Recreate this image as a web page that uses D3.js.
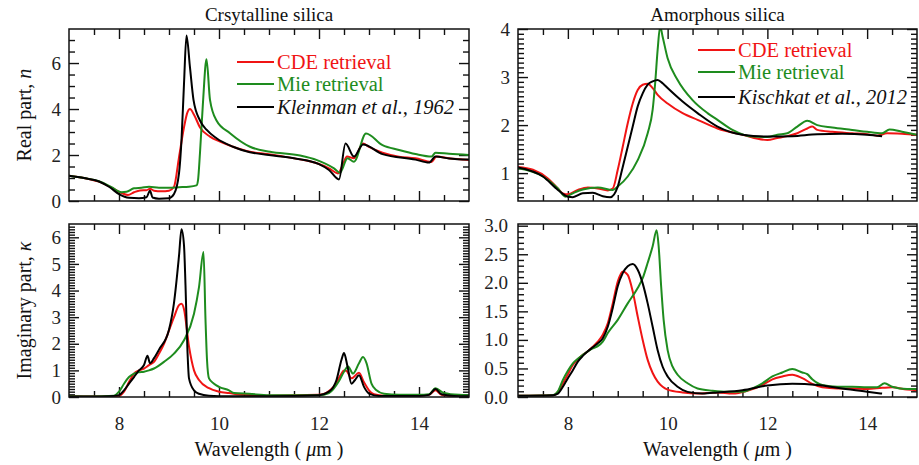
<!DOCTYPE html>
<html>
<head>
<meta charset="utf-8">
<script src="https://cdn.jsdelivr.net/npm/d3@7"></script>
<style>
  body { margin: 0; background: #fff; }
  svg text { font-family: "Liberation Serif", "DejaVu Serif", "Times New Roman", serif; }
</style>
</head>
<body>
<svg width="919" height="465"></svg>
<script>
// wavelength (um) vs value
let crysNcde = [[7.0,1.1],[7.3,1.0],[7.6,0.84],[7.87,0.56],[8.05,0.35],[8.18,0.26],[8.3,0.38],[8.42,0.46],[8.55,0.47],[8.62,0.53],[8.7,0.45],[8.85,0.42],[9.0,0.45],[9.1,0.62],[9.2,1.9],[9.3,3.2],[9.36,3.8],[9.42,4.0],[9.5,3.75],[9.62,3.2],[9.82,2.8],[10.02,2.58],[10.28,2.36],[10.62,2.14],[10.96,2.04],[11.3,1.93],[11.62,1.81],[11.96,1.64],[12.2,1.42],[12.38,1.2],[12.48,1.6],[12.56,1.93],[12.7,1.86],[12.88,2.5],[13.0,2.35],[13.27,2.1],[13.6,1.93],[13.93,1.86],[14.25,1.7],[14.35,1.93],[14.6,1.86],[15,1.78]];
let crysNmie = [[7.0,1.1],[7.3,1.0],[7.6,0.86],[7.85,0.6],[8.05,0.38],[8.15,0.4],[8.3,0.55],[8.45,0.58],[8.6,0.62],[8.8,0.58],[9.0,0.58],[9.2,0.6],[9.4,0.62],[9.55,0.68],[9.58,0.9],[9.62,2.1],[9.68,4.3],[9.75,6.16],[9.82,4.4],[9.95,3.5],[10.22,2.95],[10.62,2.36],[11.02,2.14],[11.62,1.98],[11.96,1.78],[12.3,1.42],[12.42,1.23],[12.57,1.86],[12.7,1.71],[12.94,2.94],[13.27,2.43],[13.6,2.22],[13.93,2.04],[14.25,1.93],[14.33,2.1],[14.6,2.05],[15,2.0]];
let crysNref = [[7.0,1.1],[7.3,1.0],[7.6,0.85],[7.8,0.62],[8.0,0.3],[8.2,0.14],[8.4,0.12],[8.55,0.16],[8.62,0.45],[8.67,0.15],[8.8,0.1],[9.0,0.12],[9.1,0.3],[9.2,1.2],[9.25,2.65],[9.3,5.1],[9.35,7.2],[9.42,5.8],[9.49,4.4],[9.62,3.5],[9.75,3.1],[9.95,2.73],[10.28,2.36],[10.62,2.12],[11.0,2.0],[11.5,1.86],[12.0,1.6],[12.2,1.35],[12.4,0.94],[12.53,2.5],[12.7,1.93],[12.88,2.46],[13.27,2.04],[13.93,1.8],[14.2,1.67],[14.33,1.93],[14.6,1.85],[15,1.8]];

let crysKcde = [[7.0,0.03],[7.5,0.02],[7.8,0.03],[8.0,0.05],[8.1,0.2],[8.2,0.56],[8.3,0.88],[8.4,1.0],[8.5,1.07],[8.6,1.2],[8.7,1.32],[8.8,1.63],[8.9,2.0],[9.0,2.5],[9.1,3.0],[9.2,3.45],[9.25,3.5],[9.3,3.3],[9.4,1.9],[9.5,1.0],[9.6,0.64],[9.8,0.33],[10.0,0.2],[10.2,0.15],[10.5,0.08],[11,0.05],[12,0.08],[12.3,0.4],[12.45,0.88],[12.5,1.0],[12.55,0.98],[12.65,0.7],[12.8,0.91],[12.9,0.55],[13.0,0.25],[13.1,0.1],[13.3,0.05],[14.0,0.05],[14.2,0.08],[14.33,0.25],[14.45,0.08],[14.7,0.03],[15,0.02]];
let crysKmie = [[7.0,0.03],[7.5,0.02],[7.9,0.05],[8.0,0.2],[8.1,0.5],[8.2,0.75],[8.3,0.88],[8.4,0.93],[8.5,0.95],[8.6,1.0],[8.7,1.07],[8.9,1.32],[9.1,1.63],[9.3,2.13],[9.5,3.13],[9.6,4.13],[9.69,5.45],[9.73,2.9],[9.76,1.4],[9.8,0.7],[9.9,0.5],[10.0,0.38],[10.2,0.25],[10.3,0.15],[10.6,0.12],[11,0.07],[12,0.07],[12.2,0.15],[12.4,0.6],[12.5,0.95],[12.58,1.15],[12.68,0.88],[12.8,1.27],[12.88,1.5],[12.95,1.27],[13.05,0.5],[13.15,0.25],[13.3,0.12],[13.6,0.08],[14.0,0.08],[14.2,0.1],[14.33,0.33],[14.5,0.15],[14.8,0.08],[15,0.07]];
let crysKref = [[7.0,0.02],[7.5,0.02],[7.8,0.03],[8.0,0.07],[8.1,0.25],[8.2,0.5],[8.3,0.75],[8.4,1.0],[8.5,1.2],[8.57,1.55],[8.62,1.27],[8.7,1.46],[8.8,1.78],[9.0,2.53],[9.1,3.54],[9.2,5.3],[9.25,6.3],[9.3,5.7],[9.33,4.2],[9.37,1.7],[9.4,0.7],[9.5,0.25],[9.6,0.12],[9.8,0.05],[10.2,0.03],[11,0.03],[12.0,0.07],[12.2,0.2],[12.35,0.64],[12.45,1.4],[12.5,1.65],[12.57,1.15],[12.65,0.5],[12.72,0.64],[12.8,0.82],[12.9,0.38],[13.0,0.13],[13.2,0.04],[14.0,0.04],[14.2,0.08],[14.33,0.3],[14.45,0.1],[14.7,0.04],[15,0.03]];

let amorNcde = [[7.0,1.13],[7.3,1.07],[7.6,0.89],[7.8,0.68],[7.9,0.58],[8.0,0.56],[8.2,0.65],[8.4,0.7],[8.6,0.68],[8.8,0.64],[8.9,0.68],[9.0,1.07],[9.1,1.55],[9.2,2.04],[9.3,2.45],[9.4,2.73],[9.5,2.84],[9.6,2.86],[9.7,2.77],[9.8,2.63],[10.0,2.45],[10.3,2.25],[10.6,2.11],[11.0,1.93],[11.5,1.8],[12.0,1.69],[12.2,1.73],[12.4,1.77],[12.6,1.83],[12.8,1.93],[12.9,1.97],[13.0,1.9],[13.3,1.86],[13.7,1.83],[14.0,1.81],[14.2,1.78],[14.4,1.83],[14.7,1.82],[15,1.8]];
let amorNmie = [[7.0,1.1],[7.5,0.93],[7.8,0.68],[7.95,0.51],[8.1,0.58],[8.3,0.66],[8.6,0.7],[8.9,0.65],[9.0,0.72],[9.2,0.93],[9.4,1.27],[9.6,1.83],[9.7,2.32],[9.75,2.87],[9.8,3.57],[9.85,4.05],[9.9,3.84],[10.0,3.39],[10.2,2.94],[10.5,2.52],[10.8,2.25],[11.0,2.11],[11.3,1.9],[11.7,1.76],[12.0,1.75],[12.2,1.8],[12.4,1.83],[12.6,1.97],[12.8,2.09],[13.0,2.0],[13.3,1.95],[13.7,1.9],[14.0,1.86],[14.3,1.83],[14.45,1.91],[14.7,1.86],[15,1.8]];
let amorNref = [[7.0,1.12],[7.5,0.93],[7.8,0.65],[8.0,0.51],[8.1,0.5],[8.3,0.58],[8.5,0.59],[8.7,0.52],[8.85,0.5],[9.0,0.72],[9.1,1.13],[9.2,1.55],[9.3,1.97],[9.4,2.39],[9.5,2.66],[9.6,2.84],[9.7,2.91],[9.8,2.94],[9.9,2.87],[10.0,2.77],[10.3,2.49],[10.6,2.25],[11.0,1.97],[11.5,1.8],[12.0,1.76],[12.5,1.77],[13.0,1.81],[13.5,1.82],[14.0,1.8],[14.3,1.77]];

let amorKcde = [[7.0,0.02],[7.7,0.03],[7.8,0.09],[7.9,0.24],[8.0,0.4],[8.1,0.56],[8.2,0.66],[8.3,0.74],[8.4,0.8],[8.5,0.88],[8.6,0.97],[8.7,1.09],[8.8,1.29],[8.9,1.64],[9.0,2.02],[9.1,2.2],[9.2,2.14],[9.3,1.85],[9.4,1.41],[9.5,1.0],[9.6,0.65],[9.7,0.42],[9.8,0.27],[9.9,0.18],[10.0,0.13],[10.3,0.08],[10.6,0.06],[11.0,0.08],[11.3,0.06],[11.6,0.11],[11.9,0.21],[12.1,0.31],[12.3,0.36],[12.5,0.39],[12.7,0.33],[12.9,0.23],[13.1,0.17],[13.4,0.15],[13.7,0.15],[14.0,0.14],[14.3,0.16],[14.5,0.17],[14.8,0.13],[15,0.12]];
let amorKmie = [[7.0,0.02],[7.7,0.03],[7.8,0.1],[7.9,0.3],[8.0,0.46],[8.1,0.59],[8.2,0.67],[8.3,0.74],[8.4,0.8],[8.5,0.85],[8.6,0.89],[8.7,0.97],[8.8,1.12],[9.0,1.35],[9.2,1.64],[9.4,1.91],[9.5,2.08],[9.6,2.35],[9.7,2.64],[9.78,2.92],[9.82,2.64],[9.87,1.94],[9.92,1.35],[10.0,0.82],[10.1,0.53],[10.2,0.39],[10.4,0.24],[10.6,0.15],[10.9,0.11],[11.2,0.09],[11.5,0.09],[11.7,0.15],[11.9,0.24],[12.1,0.36],[12.3,0.43],[12.5,0.49],[12.7,0.43],[12.8,0.4],[12.9,0.31],[13.1,0.21],[13.4,0.18],[13.7,0.18],[14.0,0.17],[14.2,0.17],[14.35,0.24],[14.5,0.18],[14.8,0.14],[15,0.14]];
let amorKref = [[7.0,0.02],[7.7,0.03],[7.8,0.06],[7.9,0.18],[8.0,0.33],[8.1,0.47],[8.2,0.62],[8.3,0.72],[8.4,0.8],[8.5,0.87],[8.6,0.94],[8.7,1.03],[8.8,1.23],[8.9,1.56],[9.0,1.94],[9.1,2.17],[9.2,2.29],[9.3,2.33],[9.4,2.23],[9.5,1.99],[9.6,1.64],[9.7,1.23],[9.8,0.82],[9.9,0.53],[10.0,0.36],[10.2,0.18],[10.4,0.09],[10.7,0.06],[11.0,0.08],[11.5,0.12],[12.0,0.2],[12.5,0.23],[13.0,0.21],[13.5,0.15],[14.0,0.09],[14.3,0.06]];

let xLabels = [8, 10, 12, 14];
let legendCrys = ["CDE retrieval", "Mie retrieval", "Kleinman et al., 1962"];
let legendAmor = ["CDE retrieval", "Mie retrieval", "Kischkat et al., 2012"];
let colors = ["#f01414", "#1e8c1e", "#000000"];

const svg = d3.select("svg");

function drawPanel(o) {
  let x = d3.scaleLinear().domain([7, 15]).range([o.x0, o.x1]);
  let y = d3.scaleLinear().domain(o.yDomain).range([o.y1, o.y0]);
  let g = svg.append("g");
  let id = "clip" + o.name;
  g.append("clipPath").attr("id", id).append("rect")
    .attr("x", o.x0).attr("y", o.y0).attr("width", o.x1 - o.x0).attr("height", o.y1 - o.y0);

  let xMinor = d3.range(7.5, 15, 0.5).filter(d => xLabels.indexOf(d) < 0);
  let yMinor = d3.range(0, 80).map(i => +(o.yDomain[0] - o.yDomain[0] % o.minor + i * o.minor).toFixed(3))
    .filter(d => d > o.yDomain[0] && d < o.yDomain[1] && !o.yTicks.some(t => Math.abs(t - d) < 1e-6));

  let axes = [
    [d3.axisBottom(x).tickValues(xLabels).tickSize(-10).tickPadding(20).tickFormat(o.xText ? d3.format("d") : ""), `translate(0,${o.y1})`],
    [d3.axisBottom(x).tickValues(xMinor).tickSize(-6).tickFormat(""), `translate(0,${o.y1})`],
    [d3.axisTop(x).tickValues(xLabels).tickSize(-10).tickFormat(""), `translate(0,${o.y0})`],
    [d3.axisTop(x).tickValues(xMinor).tickSize(-6).tickFormat(""), `translate(0,${o.y0})`],
    [d3.axisLeft(y).tickValues(o.yTicks).tickSize(-10).tickPadding(o.pad).tickFormat(o.fmt), `translate(${o.x0},0)`],
    [d3.axisLeft(y).tickValues(yMinor).tickSize(-6).tickFormat(""), `translate(${o.x0},0)`],
    [d3.axisRight(y).tickValues(o.yTicks).tickSize(-10).tickFormat(""), `translate(${o.x1},0)`],
    [d3.axisRight(y).tickValues(yMinor).tickSize(-6).tickFormat(""), `translate(${o.x1},0)`]
  ];
  axes.forEach(([ax, tr]) => {
    let a = g.append("g").attr("transform", tr).call(ax);
    a.select(".domain").remove();
    a.selectAll("line").attr("stroke", "#111").attr("stroke-width", 1.4);
    a.selectAll("text").attr("font-size", 19).attr("fill", "#222")
      .style("font-family", "'Liberation Serif', 'DejaVu Serif', serif");
  });

  let line = d3.line().x(d => x(d[0])).y(d => y(d[1])).curve(d3.curveMonotoneX);
  let lg = g.append("g").attr("clip-path", `url(#${id})`);
  o.series.forEach((s, i) => {
    lg.append("path").datum(s).attr("d", line)
      .attr("fill", "none").attr("stroke", colors[i]).attr("stroke-width", 2)
      .attr("stroke-linejoin", "round");
  });

  g.append("rect").attr("x", o.x0).attr("y", o.y0)
    .attr("width", o.x1 - o.x0).attr("height", o.y1 - o.y0)
    .attr("fill", "none").attr("stroke", "#111").attr("stroke-width", 1.5);

  if (o.legend) {
    o.legend.forEach((t, i) => {
      let ly = o.leg.y[i];
      g.append("line").attr("x1", o.leg.x).attr("x2", o.leg.x + 37)
        .attr("y1", ly).attr("y2", ly).attr("stroke", colors[i]).attr("stroke-width", 2);
      g.append("text").attr("x", o.leg.x + 40).attr("y", ly + 7)
        .attr("font-size", 20.5).attr("fill", i < 2 ? colors[i] : "#111")
        .attr("font-style", i === 2 ? "italic" : "normal").text(t);
    });
  }
  if (o.title) {
    g.append("text").attr("x", (o.x0 + o.x1) / 2).attr("y", 21)
      .attr("text-anchor", "middle").attr("font-size", 19).attr("fill", "#111").text(o.title);
  }
  if (o.xText) {
    let t = g.append("text").attr("x", (o.x0 + o.x1) / 2).attr("y", 456)
      .attr("text-anchor", "middle").attr("font-size", 20).attr("fill", "#111");
    t.append("tspan").text("Wavelength ( ");
    t.append("tspan").attr("font-style", "italic").text("\u03bc");
    t.append("tspan").text("m )");
  }
  if (o.yTitle) {
    let t = g.append("text").attr("transform", `translate(31,${(o.y0 + o.y1) / 2}) rotate(-90)`)
      .attr("text-anchor", "middle").attr("font-size", 20).attr("fill", "#111");
    t.append("tspan").text(o.yTitle[0]);
    t.append("tspan").attr("font-style", "italic").text(o.yTitle[1]);
  }
}

drawPanel({ name: "a", x0: 69, x1: 469, y0: 29, y1: 201, yDomain: [0, 7.48], yTicks: [0, 2, 4, 6], minor: 0.5,
  fmt: d3.format("d"), pad: 8, xText: false, series: [crysNcde, crysNmie, crysNref],
  legend: legendCrys, leg: { x: 237, y: [62, 84, 107] }, title: "Crsytalline silica", yTitle: ["Real part, ", "n"] });
drawPanel({ name: "b", x0: 518, x1: 917, y0: 29, y1: 201, yDomain: [0.42, 4], yTicks: [1, 2, 3, 4], minor: 0.1,
  fmt: d3.format("d"), pad: 8, xText: false, series: [amorNcde, amorNmie, amorNref],
  legend: legendAmor, leg: { x: 698, y: [50, 72, 97] }, title: "Amorphous silica" });
drawPanel({ name: "c", x0: 69, x1: 469, y0: 224, y1: 397, yDomain: [0, 6.5], yTicks: [0, 1, 2, 3, 4, 5, 6], minor: 0.1,
  fmt: d3.format("d"), pad: 8, xText: true, series: [crysKcde, crysKmie, crysKref],
  yTitle: ["Imaginary part, ", "\u03ba"] });
drawPanel({ name: "d", x0: 518, x1: 917, y0: 224, y1: 397, yDomain: [0, 3.03], yTicks: [0, 0.5, 1, 1.5, 2, 2.5, 3], minor: 0.1,
  fmt: d3.format(".1f"), pad: 10, xText: true, series: [amorKcde, amorKmie, amorKref] });
</script>
</body>
</html>
